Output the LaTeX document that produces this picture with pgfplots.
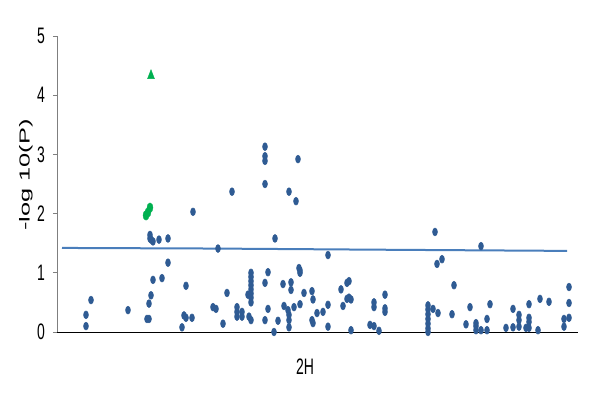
\documentclass[border=0pt]{standalone}
\usepackage{fontspec}
\setmainfont{Liberation Sans}
\newfontfamily\condfont{Liberation Sans}[FakeStretch=0.625]
\newfontfamily\widefont{Liberation Sans}[FakeStretch=1.75]
\usepackage{pgfplots}
\pgfplotsset{compat=1.18}
\definecolor{dotblue}{HTML}{2F5B93}
\definecolor{lineblue}{HTML}{4A7EBB}
\definecolor{sigreen}{HTML}{00B050}
\definecolor{axgray}{HTML}{7F7F7F}
\begin{document}
\begin{tikzpicture}
\useasboundingbox (-57bp,-70bp) rectangle (543bp,332bp);
\begin{axis}[
  scale only axis, width=521bp, height=296bp,
  xmin=57, xmax=578, ymin=0, ymax=5,
  axis x line*=bottom, axis y line*=left,
  x axis line style={draw=black, line width=1bp},
  y axis line style={draw=axgray, line width=1bp},
  xtick=\empty,
  ytick={0,1,2,3,4,5},
  tick align=outside,
  major tick length=4bp,
  ytick style={draw=axgray, line width=1bp},
  /pgf/number format/assume math mode=true,
  yticklabel style={font=\condfont\fontsize{22.4bp}{24bp}\selectfont,
                    inner sep=0pt, anchor=east, xshift=-8bp},
  xlabel={2H},
  every axis x label/.style={at={(axis description cs:0.476,0)}, anchor=north,
                    inner sep=0pt, yshift=-27bp,
                    font=\condfont\fontsize{22.4bp}{24bp}\selectfont},
  clip=false,
]
% threshold line
\addplot[lineblue, line width=2bp] coordinates {
  (62,1.42)(210,1.41)(380,1.39)(567,1.37)
};
% all markers
\addplot[only marks, mark=*, mark size=2.5bp, color=dotblue,
         mark options={yscale=1.6}] coordinates {
  (86,0.10)(86,0.29)(91,0.54)(128,0.37)(147,0.22)(149,0.22)(149,0.48)(151,0.62)
  (153,0.88)(150,1.64)(150,1.58)(151,1.56)(153,1.53)(159,1.56)(168,1.58)(168,1.17)
  (162,0.91)(186,0.78)(184,0.28)(186,0.24)(192,0.24)(182,0.08)(193,2.03)
  (218,1.41)(227,0.66)(213,0.42)(216,0.39)(223,0.14)(237,0.42)(237,0.34)(237,0.26)
  (242,0.34)(242,0.26)(248,0.63)(251,1.00)(251,0.93)(251,0.86)(251,0.79)(251,0.72)
  (251,0.65)(251,0.58)(251,0.50)(249,0.26)(251,0.20)(232,2.37)
  (265,3.13)(265,2.97)(265,2.89)(265,2.50)(289,2.37)(296,2.21)(298,2.92)
  (275,1.58)(268,1.01)(265,0.83)(268,0.39)(265,0.20)(274,0.00)(278,0.19)(283,0.81)
  (284,0.44)(288,0.37)(289,0.29)(289,0.20)(289,0.08)(291,0.84)(291,0.71)(294,0.42)
  (299,1.08)(300,1.04)(300,1.00)(300,0.47)(304,0.66)(312,0.69)(313,0.55)(312,0.20)
  (313,0.15)(317,0.32)(323,0.34)(328,1.30)(328,0.46)(328,0.09)(341,0.72)(343,0.44)
  (347,0.83)(349,0.86)(347,0.56)(349,0.58)(351,0.55)(351,0.03)
  (374,0.50)(374,0.42)(385,0.63)(385,0.40)(385,0.34)(370,0.12)(374,0.10)(379,0.02)
  (428,0.45)(428,0.38)(428,0.30)(428,0.22)(428,0.14)(428,0.06)(428,0.00)
  (433,0.39)(438,0.32)(452,0.30)(435,1.69)(437,1.15)(442,1.23)(454,0.79)
  (481,1.45)(470,0.42)(490,0.47)(466,0.13)(476,0.15)(476,0.10)(476,0.03)(481,0.03)
  (487,0.22)(487,0.03)(506,0.07)(513,0.39)(513,0.08)(519,0.29)(519,0.20)(519,0.09)
  (529,0.47)(529,0.24)(529,0.17)(529,0.07)(526,0.07)(538,0.03)(540,0.56)(549,0.51)
  (564,0.22)(564,0.09)(569,0.76)(569,0.49)(569,0.24)
};
% significant points
\addplot[only marks, mark=*, mark size=3bp, color=sigreen,
         mark options={yscale=1.6}] coordinates {
  (146,1.97)(148,2.02)(150,2.10)
};
\addplot[only marks, mark=triangle*, mark size=4bp, color=sigreen,
         mark options={yscale=1.5}] coordinates {
  (151,4.33)
};
\node[rotate=90, anchor=center, inner sep=0pt,
      font=\widefont\fontsize{14.5bp}{16bp}\selectfont]
  at ([xshift=-31bp]axis description cs:0,0.53) {-log 10(P)};
\end{axis}
\end{tikzpicture}
\end{document}
